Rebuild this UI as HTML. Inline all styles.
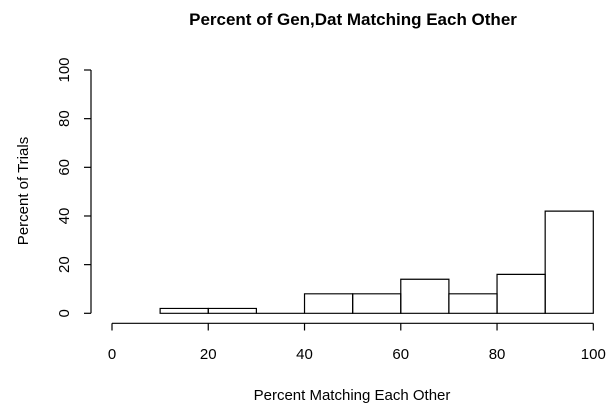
<!DOCTYPE html>
<html><head><style>body{margin:0;background:#fff}svg{display:block;font-family:"Liberation Sans",Arial,sans-serif}</style></head>
<body>
<svg id="c" width="616" height="411">
<text x="353" y="25" text-anchor="middle" font-size="17" font-weight="bold">Percent of Gen,Dat Matching Each Other</text>
<text x="352" y="400" text-anchor="middle" font-size="15">Percent Matching Each Other</text>
<text transform="translate(28,191) rotate(-90)" text-anchor="middle" font-size="15">Percent of Trials</text>
<g id="bars"></g><g id="xa"></g><g id="ya"></g>
</svg>
<script>
const binStarts=[10,20,30,40,50,60,70,80,90];
const binWidth=10;
const values=[2,2,0,8,8,14,8,16,42];
const xTicks=[0,20,40,60,80,100];
const yTicks=[0,20,40,60,80,100];
const NS='http://www.w3.org/2000/svg';
const X=v=>112+v*(593.3-112)/100;
const Y=v=>313.3-v*(313.3-70)/100;
function mk(t,a,p){const e=document.createElementNS(NS,t);for(const k in a)e.setAttribute(k,a[k]);p.appendChild(e);return e;}
const bars=document.getElementById('bars');
binStarts.forEach((b,i)=>{
const x0=X(b),x1=X(b+binWidth),y0=Y(0),y1=Y(values[i]);
const r=mk('path',{d:`M${x0},${y0}L${x0},${y1}L${x1},${y1}L${x1},${y0}Z`,fill:'none',stroke:'#000','stroke-width':1.2},bars);

});
const xa=document.getElementById('xa');
mk('line',{x1:X(0),x2:X(100),y1:323.3,y2:323.3,stroke:'#000','stroke-width':1.2},xa);
xTicks.forEach(t=>{mk('line',{x1:X(t),x2:X(t),y1:323.3,y2:330.5,stroke:'#000','stroke-width':1.2},xa);
const l=mk('text',{x:X(t),y:359,'text-anchor':'middle','font-size':15},xa);l.textContent=t;

});
const ya=document.getElementById('ya');
mk('line',{x1:91,x2:91,y1:Y(0),y2:Y(100),stroke:'#000','stroke-width':1.2},ya);
yTicks.forEach(t=>{mk('line',{x1:84,x2:91,y1:Y(t),y2:Y(t),stroke:'#000','stroke-width':1.2},ya);
const l=mk('text',{transform:`translate(69,${Y(t)}) rotate(-90)`,'text-anchor':'middle','font-size':15},ya);l.textContent=t;

});
</script>
</body></html>
